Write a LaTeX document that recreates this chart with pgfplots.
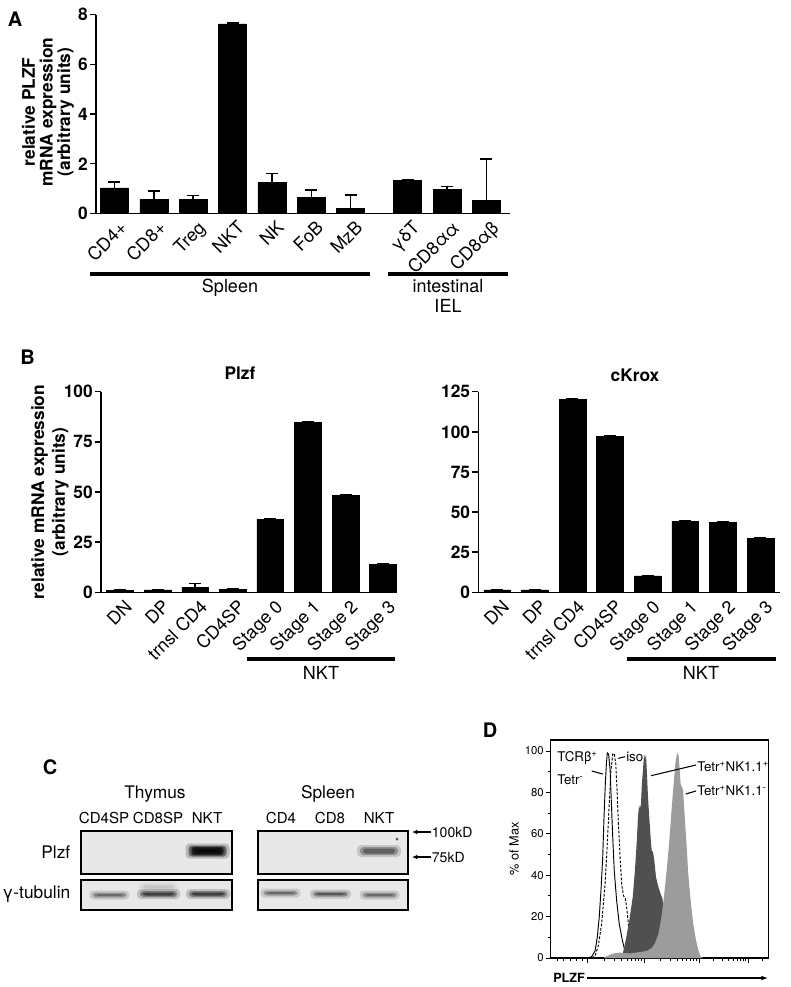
\documentclass[border=0pt]{standalone}
\usepackage{fontspec}
\setmainfont{TeX Gyre Heros}
\usepackage{pgfplots}
\pgfplotsset{compat=1.18}
\usetikzlibrary{arrows.meta}
\definecolor{darkfill}{HTML}{505050}
\definecolor{lightfill}{HTML}{9C9C9C}
\definecolor{blotbg}{HTML}{E8E8E8}
\newcommand\fs[2]{\fontsize{#1}{#2}\selectfont}
\newcommand\band[5]{%
 \fill[#5,opacity=0.2,rounded corners=3pt] (#1-#3/2-3,#2-#4/2-2) rectangle (#1+#3/2+3,#2+#4/2+2);
 \fill[#5,opacity=0.4,rounded corners=2.5pt] (#1-#3/2,#2-#4/2) rectangle (#1+#3/2,#2+#4/2);
 \fill[#5,opacity=0.6,rounded corners=2pt] (#1-#3/2+3,#2-#4/2+1.5) rectangle (#1+#3/2-3,#2+#4/2-1.5);
}
\pgfplotsset{
 barstyle/.style={
  scale only axis, enlargelimits=false,
  axis lines=left, axis line style={-, line width=1.1pt},
  tick align=outside, major tick length=4.5pt,
  xtick style={draw=none}, ytick style={line width=1.1pt, black},
  /pgf/number format/assume math mode=true,
  yticklabel style={font=\fs{13}{15}\bfseries, inner sep=1.5pt},
  xticklabel style={font=\fs{13.5}{16}, rotate=45, anchor=north east, inner sep=1pt, xshift=3pt, yshift=-1pt},
  ybar, bar width=0.71, clip=false,
 },
 barplot/.style={fill=black, draw=black,
  error bars/.cd, y dir=plus, y explicit,
  error bar style={line width=1.1pt, black},
  error mark options={rotate=90, line width=1.1pt, mark size=4.5pt, black}},
}
\begin{document}
\begin{tikzpicture}
\useasboundingbox (0,0) rectangle (592.5pt,-740.25pt);

% ---------------- Panel A
\begin{axis}[barstyle,
 at={(72pt,-160.125pt)}, anchor=south west,
 width=310.5pt, height=149.25pt,
 xmin=-0.47, xmax=10.05, ymin=0, ymax=8, ytick={0,2,4,6,8},
 xtick={0,1,2,3,4,5,6,7.45,8.45,9.45},
 xticklabels={CD4+,CD8+,Treg,NKT,NK,FoB,MzB,γδT,CD8αα,CD8αβ}]
\addplot[barplot] table[x=x,y=y,y error=e]{
x y e
0 1.03 0.24
1 0.58 0.33
2 0.57 0.15
3 7.62 0.03
4 1.25 0.35
5 0.65 0.30
6 0.20 0.54
7.45 1.32 0.03
8.45 0.96 0.13
9.45 0.52 1.68
};
\end{axis}

% ---------------- Panel B left (Plzf)
\begin{axis}[barstyle,
 at={(75.75pt,-444.225pt)}, anchor=south west,
 width=222pt, height=150.45pt,
 xmin=-0.505, xmax=7.37, ymin=0, ymax=100, ytick={0,25,50,75,100},
 xtick={0,...,7},
 xticklabels={DN,DP,trnsl CD4,CD4SP,Stage 0,Stage 1,Stage 2,Stage 3}]
\addplot[barplot] table[x=x,y=y,y error=e]{
x y e
0 1.0 0.2
1 1.2 0.2
2 2.3 2.2
3 1.6 0.2
4 36.5 0.2
5 84.7 0.2
6 48.3 0.2
7 14.1 0.2
};
\end{axis}

% ---------------- Panel B right (cKrox)
\begin{axis}[barstyle,
 at={(358.725pt,-444.225pt)}, anchor=south west,
 width=226.275pt, height=150.45pt,
 xmin=-0.505, xmax=7.52, ymin=0, ymax=125, ytick={0,25,50,75,100,125},
 xtick={0,...,7},
 xticklabels={DN,DP,trnsl CD4,CD4SP,Stage 0,Stage 1,Stage 2,Stage 3}]
\addplot[barplot] table[x=x,y=y,y error=e]{
x y e
0 1.5 0.2
1 1.5 0.2
2 120.4 0.3
3 97.0 0.3
4 10.2 0.3
5 44.4 0.3
6 43.6 0.3
7 33.8 0.3
};
\end{axis}

% ---------------- Panel D (histogram)
\begin{axis}[
 at={(413.025pt,-718.5pt)}, anchor=south west,
 scale only axis, width=163.2pt, height=163.5pt,
 xmin=0, xmax=100, ymin=0, ymax=105.3,
 axis line style={line width=0.9pt},
 tick pos=left, tick align=outside,
 major tick length=3.5pt, minor tick length=2pt,
 every tick/.style={black, line width=0.7pt},
 ytick={0,20,40,60,80,100}, minor y tick num=1,
 /pgf/number format/assume math mode=true,
 yticklabel style={font=\fs{8.5}{10}, inner sep=1.5pt},
 xtick={17.1,42.9,68.2,90.7}, xticklabel=\empty,
 minor xtick={3,6,9,12,14.5,24.9,29.4,32.6,35.1,37.2,38.9,40.4,41.7,50.5,55.0,58.1,60.6,62.6,64.3,65.7,67.0,75.0,78.9,81.7,83.9,85.7,87.2,88.5,89.7,97.5},
]
\addplot[black, line width=0.7pt] coordinates {
(0,0) (16.5,0) (18.8,0.6) (20.4,3.5) (21.4,10.0) (22.3,19.7) (23.1,32.6) (23.9,48.7) (24.5,68.1) (25.1,84.2) (25.6,93.9) (26.0,99.1) (26.6,98.5) (27.3,90.8) (27.9,74.6) (28.5,58.4) (29.2,42.3) (30.3,27.7) (31.5,16.5) (32.8,9.2) (33.7,5.1) (34.9,1.9) (37.2,0.3) (41.0,0)
};
\addplot[black, line width=0.7pt, dashed, dash pattern=on 2pt off 1.2pt] coordinates {
(18.9,0) (20.4,1.1) (21.9,6.0) (23.4,16.5) (25.0,35.8) (26.0,55.2) (26.9,74.6) (27.7,90.8) (28.5,98.5) (29.2,98.8) (29.9,93.9) (30.5,81.0) (31.1,64.9) (31.9,48.7) (32.6,35.8) (33.4,30.2) (34.3,28.6) (34.9,24.5) (35.7,16.5) (36.3,8.4) (36.9,1.9) (37.7,0)
};
\addplot[fill=darkfill, draw=none] coordinates {
(32.6,0) (33.4,3.5) (34.6,9.2) (36.1,18.1) (37.7,29.4) (38.7,42.3) (39.5,55.2) (40.1,68.1) (40.6,73.8) (41.0,72.1) (41.5,74.6) (41.9,84.2) (42.4,90.7) (42.9,98.4) (43.3,96.3) (43.8,98.0) (44.3,87.5) (44.7,77.8) (45.3,68.1) (45.9,58.4) (46.4,52.0) (47.0,51.2) (47.6,47.1) (48.4,39.0) (49.5,34.2) (50.5,31.0) (51.4,28.6) (52.1,18.1) (52.7,6.8) (53.3,0)
} \closedcycle;
\addplot[fill=lightfill, draw=none] coordinates {
(24.2,0) (26.0,1.0) (28.8,2.2) (31.8,2.6) (36.5,2.2) (41.0,2.9) (44.1,3.4) (46.4,4.8) (47.9,7.1) (49.5,11.6) (51.0,20.5) (52.1,30.2) (53.3,42.3) (54.4,55.2) (55.3,68.1) (56.0,77.8) (56.7,86.7) (57.3,94.0) (57.9,98.0) (58.4,99.1) (58.8,97.5) (59.3,90.7) (59.7,83.9) (60.3,82.6) (60.8,81.3) (61.2,74.6) (61.8,64.9) (62.5,53.6) (63.2,40.7) (64.3,27.8) (65.5,16.5) (66.8,8.4) (67.9,3.5) (68.9,0.6) (70.1,0)
} \closedcycle;
\end{axis}

% ---------------- annotations in pixel units
\begin{scope}[x=0.75pt,y=-0.75pt]
% panel letters
\node[font=\fs{15}{17}\bfseries] at (15,19.5) {A};
\node[font=\fs{15}{17}\bfseries] at (27.5,357.5) {B};
\node[font=\fs{15}{17}\bfseries] at (50,767) {C};
\node[font=\fs{15}{17}\bfseries] at (490,730) {D};
% A
\node[rotate=90, align=center, font=\fs{13}{13.2}\bfseries] at (48,112) {relative PLZF\\mRNA expression\\(arbitrary units)};
\draw[line width=3.4pt] (90,274)--(370,274);
\draw[line width=3.4pt] (388,274)--(508,274);
\node[font=\fs{13.5}{15}] at (230,288) {Spleen};
\node[font=\fs{13.5}{15}, align=center] at (448,296) {intestinal\\IEL};
% B
\node[font=\fs{13}{15}\bfseries] at (240,373) {Plzf};
\node[font=\fs{13}{15}\bfseries] at (635,375) {cKrox};
\node[rotate=90, align=center, font=\fs{13}{15.5}\bfseries] at (50,492) {relative mRNA expression\\(arbitrary units)};
\draw[line width=3.4pt] (247,659)--(395,659);
\draw[line width=3.4pt] (627,659)--(776,659);
\node[font=\fs{13.5}{15}] at (321,673) {NKT};
\node[font=\fs{13.5}{15}] at (701,673) {NKT};
% C blot
\node[font=\fs{13}{15}] at (155,794) {Thymus};
\node[font=\fs{13}{15}] at (328,794) {Spleen};
\begin{scope}[every node/.style={font=\fs{11.3}{13}}]
\node at (104,818) {CD4SP};
\node at (158,818) {CD8SP};
\node at (207,818) {NKT};
\node at (281,818) {CD4};
\node at (330,818) {CD8};
\node at (379,818) {NKT};
\end{scope}
\node[anchor=east, font=\fs{13}{15}] at (75,852) {Plzf};
\node[anchor=east, font=\fs{13}{15}] at (75,894) {γ-tubulin};
\fill[blotbg] (80.7,830.7) rectangle (231.7,874.3);
\fill[blotbg] (258.3,830.7) rectangle (408.3,874.3);
\fill[blotbg] (80.7,880) rectangle (231.7,910);
\fill[blotbg] (258.3,880) rectangle (408.3,910);
\band{207.5}{851}{38}{11}{black}
\band{207.5}{851}{30}{6}{black}
\band{379}{851}{38}{8}{black!75}
\fill[black!70] (397,839) circle (1.5);
\band{109.5}{895}{34}{5}{black!70}
\band{158.5}{887}{34}{6}{black!25}
\band{158.5}{894}{37}{6}{black!90}
\band{208}{894}{38}{6}{black!90}
\band{280.5}{893}{34}{5}{black!70}
\band{330.5}{894}{35}{5}{black!80}
\band{379.5}{895}{34}{5}{black!70}
\draw[line width=1.4pt] (80.7,830.7) rectangle (231.7,874.3);
\draw[line width=1.4pt] (258.3,830.7) rectangle (408.3,874.3);
\draw[line width=1.4pt] (80.7,880) rectangle (231.7,910);
\draw[line width=1.4pt] (258.3,880) rectangle (408.3,910);
\draw[-{Latex[length=4pt,width=3.5pt]}, line width=0.9pt] (431,832)--(412,832);
\draw[-{Latex[length=4pt,width=3.5pt]}, line width=0.9pt] (431,857)--(412,857);
\node[anchor=west, inner sep=0.5pt, font=\fs{10.5}{12}] at (431,832) {100kD};
\node[anchor=west, inner sep=0.5pt, font=\fs{10.5}{12}] at (431,857) {75kD};
% D
\node[rotate=90, font=\fs{9.5}{11}] at (514,849) {\% of Max};
\node[anchor=west, inner sep=0pt, font=\fs{9.5}{11}\bfseries] at (553,978) {PLZF};
\draw[-{Latex[length=5pt,width=3.5pt]}, line width=0.8pt] (587,978)--(768,978);
\begin{scope}[every node/.style={font=\fs{10}{11}, inner sep=0pt, anchor=west}]
\node at (557,758) {TCRβ\textsuperscript{+}};
\node at (557,779.5) {Tetr\textsuperscript{-}};
\node at (626,757) {iso};
\node at (697,767) {Tetr\textsuperscript{+}NK1.1\textsuperscript{+}};
\node at (697,791) {Tetr\textsuperscript{+}NK1.1\textsuperscript{-}};
\end{scope}
\draw[line width=0.8pt] (591.7,771)--(602.7,774);
\draw[line width=0.8pt] (618.3,758.3)--(625,756.7);
\draw[line width=0.8pt] (651,775.7)--(696,765);
\draw[line width=0.8pt] (685.7,794)--(696,791);
\end{scope}
\end{tikzpicture}
\end{document}
